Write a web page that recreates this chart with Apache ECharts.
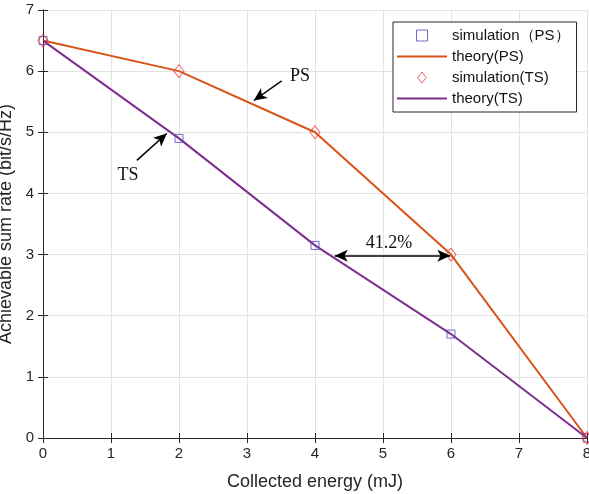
<!DOCTYPE html>
<html>
<head>
<meta charset="utf-8">
<script src="https://cdn.jsdelivr.net/npm/echarts@6/dist/echarts.min.js"></script>
<style>
  html, body { margin: 0; padding: 0; background: #fff; }
  #chart { width: 589px; height: 494px; }
</style>
</head>
<body>
<div id="chart"></div>
<script>
// collected energy (mJ)
var energy = [0, 2, 4, 6, 8];
// achievable sum rate (bit/s/Hz)
var psTheory = [6.5, 6, 5, 3, 0];
var tsTheory = [6.5, 4.9, 3.15, 1.7, 0];
var psSim = [6.5, 4.9, 3.15, 1.7, 0];
var tsSim = [6.5, 6, 5, 3, 0];

var names = ['simulation（PS）', 'theory(PS)', 'simulation(TS)', 'theory(TS)'];

function pairs(ys) {
    return energy.map(function (x, i) { return [x, ys[i]]; });
}

var chart = echarts.init(document.getElementById('chart'));
var axisCol = '#262626';
var serif = '"Liberation Serif", "Times New Roman", serif';

function note(text, x, y) {
    return {
        coord: [x, y],
        symbol: 'circle',
        symbolSize: 1,
        itemStyle: { color: 'rgba(0,0,0,0)' },
        label: {
            show: true, position: 'inside', formatter: text,
            fontFamily: serif, fontSize: 18, color: '#111'
        }
    };
}

function boxAxis(pos, max) {
    return {
        type: 'value', min: 0, max: max, interval: 1, position: pos,
        axisLine: { show: true, lineStyle: { color: axisCol, width: 1 } },
        axisTick: { show: true, inside: true, length: 5, lineStyle: { color: axisCol } },
        axisLabel: { show: false },
        splitLine: { show: false }
    };
}

var option = {
    animation: false,
    backgroundColor: '#fff',
    grid: { left: 43, right: 2, top: 10, bottom: 56, outerBoundsMode: 'none' },
    xAxis: [{
        type: 'value', min: 0, max: 8, interval: 1,
        name: 'Collected energy (mJ)', nameLocation: 'middle', nameGap: 35,
        nameTextStyle: { fontFamily: 'Liberation Sans', fontSize: 18, color: axisCol },
        axisLine: { show: true, lineStyle: { color: axisCol, width: 1 } },
        axisTick: { show: true, inside: true, length: 5, lineStyle: { color: axisCol } },
        axisLabel: { fontFamily: 'Liberation Sans', fontSize: 15, color: axisCol, margin: 8 },
        splitLine: { show: true, lineStyle: { color: '#e3e3e3' } }
    }, boxAxis('top', 8)],
    yAxis: [{
        type: 'value', min: 0, max: 7, interval: 1,
        name: 'Achievable sum rate (bit/s/Hz)', nameLocation: 'middle', nameGap: 28,
        nameTextStyle: { fontFamily: 'Liberation Sans', fontSize: 18, color: axisCol },
        axisLine: { show: true, lineStyle: { color: axisCol, width: 1 } },
        axisTick: { show: true, inside: true, length: 5, lineStyle: { color: axisCol } },
        axisLabel: { fontFamily: 'Liberation Sans', fontSize: 15, color: axisCol, margin: 9 },
        splitLine: { show: true, lineStyle: { color: '#e3e3e3' } }
    }, boxAxis('right', 7)],
    legend: {
        orient: 'vertical',
        left: 393, top: 22,
        padding: [6, 7, 6, 4],
        itemWidth: 50, itemHeight: 11, itemGap: 6,
        backgroundColor: '#fff',
        borderColor: axisCol, borderWidth: 1,
        itemStyle: { borderWidth: 1 },
        textStyle: { fontFamily: 'Liberation Sans', fontSize: 15, color: '#111' },
        data: [
            { name: names[0], icon: 'path://M0,0H10V10H0Z' },
            { name: names[1], icon: 'path://M0,0H50V2H0Z', itemStyle: { borderWidth: 0 } },
            { name: names[2], icon: 'path://M5,0L10,6.5L5,13L0,6.5Z' },
            { name: names[3], icon: 'path://M0,0H50V2H0Z', itemStyle: { borderWidth: 0 } }
        ]
    },
    series: [{
        name: names[1], type: 'line', symbol: 'none', z: 2,
        lineStyle: { color: '#D95319', width: 2 },
        itemStyle: { color: '#D95319' },
        data: pairs(psTheory)
    }, {
        name: names[3], type: 'line', symbol: 'none', z: 2,
        lineStyle: { color: '#7E2F8E', width: 2 },
        itemStyle: { color: '#7E2F8E' },
        data: pairs(tsTheory)
    }, {
        name: names[0], type: 'scatter', symbol: 'rect', symbolSize: 8, z: 3,
        itemStyle: { color: 'rgba(255,255,255,0)', borderColor: '#4747c8', borderWidth: 1 },
        data: pairs(psSim)
    }, {
        name: names[2], type: 'scatter', symbol: 'diamond', symbolSize: [10, 13], z: 3,
        itemStyle: { color: 'rgba(255,255,255,0)', borderColor: '#f03a3a', borderWidth: 1 },
        data: pairs(tsSim)
    }, {
        name: 'notes', type: 'line', data: [], z: 4,
        markLine: {
            silent: true,
            symbolSize: [9, 13],
            lineStyle: { color: '#000', width: 1.5, type: 'solid' },
            label: { show: false },
            data: [
                [{ coord: [3.51, 5.84], symbol: 'none' }, { coord: [3.10, 5.52], symbol: 'arrow' }],
                [{ coord: [1.38, 4.54], symbol: 'none' }, { coord: [1.82, 4.98], symbol: 'arrow' }],
                [{ coord: [4.29, 2.98], symbol: 'arrow' }, { coord: [5.99, 2.98], symbol: 'arrow' }]
            ]
        },
        markPoint: {
            silent: true,
            data: [
                note('PS', 3.78, 5.92),
                note('TS', 1.25, 4.29),
                note('41.2%', 5.09, 3.18)
            ]
        }
    }]
};

chart.setOption(option);
window.addEventListener('resize', function () {
    chart.resize();
});
</script>
</body>
</html>
